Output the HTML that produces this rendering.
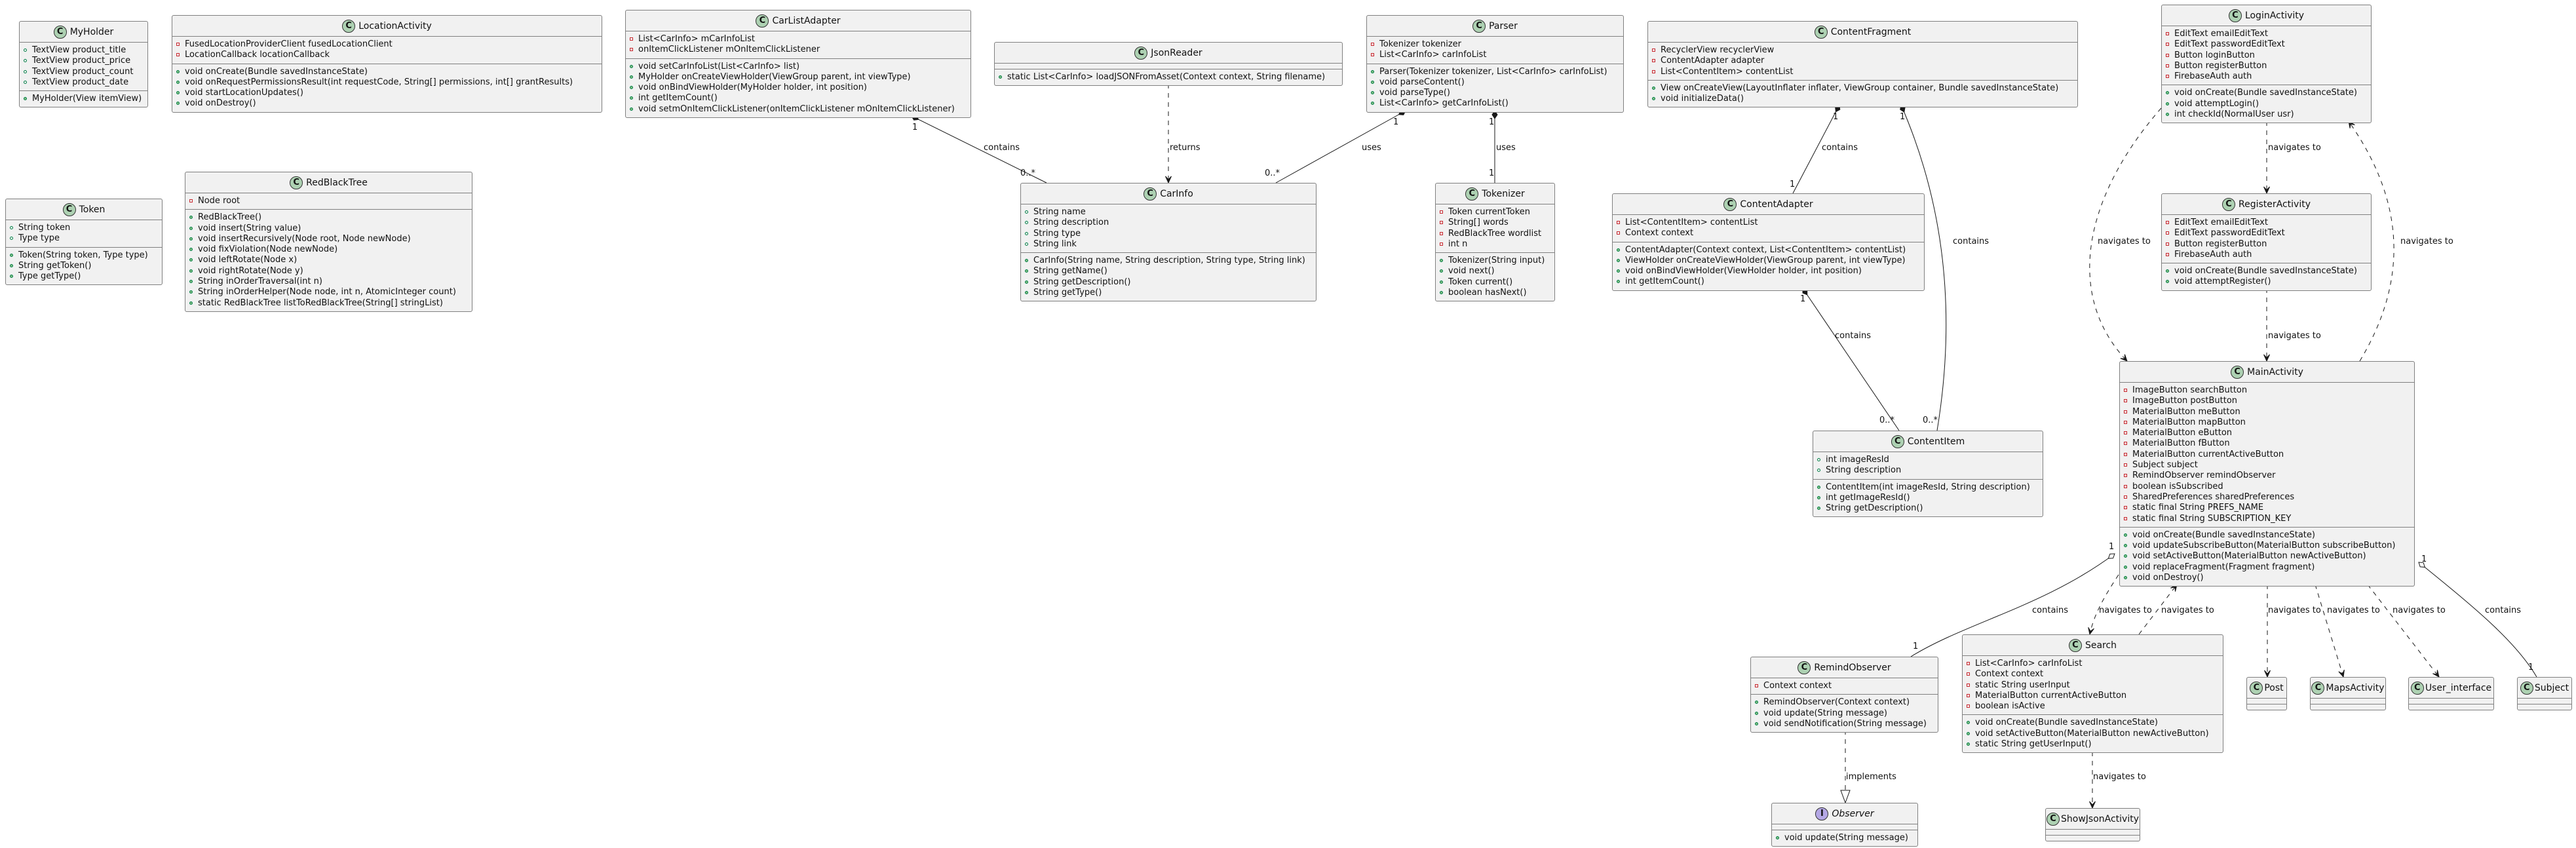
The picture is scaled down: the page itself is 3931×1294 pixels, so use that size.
<!DOCTYPE html>
<html><head><meta charset="utf-8"><style>
html,body{margin:0;padding:0;background:#fff;}
body{width:3931px;height:1294px;position:relative;overflow:hidden;font-family:"DejaVu Sans","Liberation Sans",sans-serif;}
svg{position:absolute;left:0;top:0;}
.b{position:absolute;background:#f1f1f1;border:1px solid #808080;border-radius:3px;font-size:13px;color:#111;box-sizing:border-box;}
.h{height:31px;display:flex;align-items:center;justify-content:center;border-bottom:1px solid #808080;font-size:14px;white-space:nowrap;}
.c{width:20px;height:20px;border-radius:50%;background:#add1b2;border:1px solid #333;font-weight:bold;font-size:13px;display:flex;align-items:center;justify-content:center;margin-right:5px;box-sizing:border-box;flex:none;}
.i{background:#b4a7e5;}
.s{padding:4px 0;border-bottom:1px solid #808080;min-height:0;}
.s:last-child{border-bottom:none;}
.r{height:16.3px;line-height:16.3px;padding-left:19px;position:relative;white-space:nowrap;}
.r::before{content:"";position:absolute;left:6px;top:5px;width:5px;height:5px;box-sizing:border-box;}
.p::before{border:1px solid #c82930;}
.f::before{border:1px solid #038048;border-radius:50%;}
.m::before{border:1px solid #038048;background:#84be84;border-radius:50%;}
</style></head><body>
<svg width="3931" height="1294" viewBox="0 0 3931 1294">
<defs>
<marker id="fd" markerUnits="userSpaceOnUse" viewBox="-1 -6 15 12" refX="0" refY="0" markerWidth="15" markerHeight="12" orient="auto"><path d="M0,0 L6,-4 L12,0 L6,4 Z" fill="#181818" stroke="#181818"/></marker>
<marker id="hd" markerUnits="userSpaceOnUse" viewBox="-1 -6 15 12" refX="0" refY="0" markerWidth="15" markerHeight="12" orient="auto"><path d="M0,0 L6,-4 L12,0 L6,4 Z" fill="#fff" stroke="#181818"/></marker>
<marker id="ar" markerUnits="userSpaceOnUse" viewBox="-11 -6 12 12" refX="0" refY="0" markerWidth="12" markerHeight="12" orient="auto"><path d="M0,0 L-10,-4.5 L-5,0 L-10,4.5 Z" fill="#181818" stroke="#181818" stroke-width="1"/></marker>
<marker id="tr" markerUnits="userSpaceOnUse" viewBox="-21 -9 22 18" refX="0" refY="0" markerWidth="22" markerHeight="18" orient="auto"><path d="M0,0 L-19,-7 L-19,7 Z" fill="#fff" stroke="#181818"/></marker>
</defs>
<g fill="none" stroke="#181818" stroke-width="1">
<line x1="1391" y1="177" x2="1597" y2="279" marker-start="url(#fd)"/>
<line x1="1783" y1="128" x2="1783" y2="279" stroke-dasharray="7 7" marker-end="url(#ar)"/>
<line x1="2145" y1="169" x2="1947" y2="279" marker-start="url(#fd)"/>
<line x1="2281" y1="169" x2="2281" y2="279" marker-start="url(#fd)"/>
<line x1="2807" y1="160" x2="2736" y2="295" marker-start="url(#fd)"/>
<path d="M2901,160 C2975,330 2982,500 2956,657" marker-start="url(#fd)"/>
<line x1="2751" y1="440" x2="2898" y2="657" marker-start="url(#fd)"/>
<line x1="3459" y1="185" x2="3459" y2="295" stroke-dasharray="7 7" marker-end="url(#ar)"/>
<path d="M3298,165 C3180,300 3150,450 3246,551" stroke-dasharray="7 7" marker-end="url(#ar)"/>
<path d="M3601,551 C3680,420 3665,300 3584,185" stroke-dasharray="7 7" marker-end="url(#ar)"/>
<line x1="3459" y1="440" x2="3459" y2="551" stroke-dasharray="7 7" marker-end="url(#ar)"/>
<path d="M3227,845 C3120,925 3000,950 2916,1002" marker-start="url(#hd)"/>
<path d="M3233,877 C3208,915 3195,940 3189,968" stroke-dasharray="7 7" marker-end="url(#ar)"/>
<line x1="3264" y1="968" x2="3322" y2="892" stroke-dasharray="7 7" marker-end="url(#ar)"/>
<line x1="3460" y1="892" x2="3460" y2="1033" stroke-dasharray="7 7" marker-end="url(#ar)"/>
<line x1="3533" y1="892" x2="3576" y2="1033" stroke-dasharray="7 7" marker-end="url(#ar)"/>
<line x1="3613" y1="892" x2="3722" y2="1033" stroke-dasharray="7 7" marker-end="url(#ar)"/>
<path d="M3691,858 C3780,930 3840,980 3871,1033" marker-start="url(#hd)"/>
<line x1="2816" y1="1114" x2="2816" y2="1225" stroke-dasharray="7 7" marker-end="url(#tr)"/>
<line x1="3193" y1="1147" x2="3193" y2="1233" stroke-dasharray="7 7" marker-end="url(#ar)"/>
</g>
<g font-family="DejaVu Sans, Liberation Sans, sans-serif" font-size="13" fill="#111">
<text x="1501" y="229">contains</text><text x="1392" y="198">1</text><text x="1557" y="268">0..*</text>
<text x="1785" y="229">returns</text>
<text x="2078" y="229">uses</text><text x="2126" y="190">1</text><text x="1930" y="268">0..*</text>
<text x="2283" y="229">uses</text><text x="2272" y="190">1</text><text x="2272" y="268">1</text>
<text x="2780" y="229">contains</text><text x="2797" y="182">1</text><text x="2731" y="285">1</text>
<text x="2899" y="182">1</text><text x="2980" y="372">contains</text>
<text x="2747" y="460">1</text><text x="2800" y="516">contains</text>
<text x="2868" y="645">0..*</text><text x="2934" y="645">0..*</text>
<text x="3461" y="229">navigates to</text>
<text x="3201" y="372">navigates to</text><text x="3663" y="372">navigates to</text>
<text x="3461" y="516">navigates to</text>
<text x="3101" y="935">contains</text><text x="3218" y="838">1</text><text x="2919" y="990">1</text>
<text x="3203" y="935">navigates to</text><text x="3298" y="935">navigates to</text>
<text x="3461" y="935">navigates to</text><text x="3551" y="935">navigates to</text><text x="3651" y="935">navigates to</text>
<text x="3792" y="935">contains</text><text x="3858" y="1022">1</text><text x="3695" y="857">1</text>
<text x="2817" y="1189">implements</text><text x="3194" y="1189">navigates to</text>
</g>
</svg>

<div class="b" style="left:29px;top:32px;width:197px"><div class="h"><span class="c">C</span>MyHolder</div>
<div class="s"><div class="r f">TextView product_title</div><div class="r f">TextView product_price</div><div class="r f">TextView product_count</div><div class="r f">TextView product_date</div></div>
<div class="s"><div class="r m">MyHolder(View itemView)</div></div></div>

<div class="b" style="left:262px;top:23px;width:657px"><div class="h"><span class="c">C</span>LocationActivity</div>
<div class="s"><div class="r p">FusedLocationProviderClient fusedLocationClient</div><div class="r p">LocationCallback locationCallback</div></div>
<div class="s"><div class="r m">void onCreate(Bundle savedInstanceState)</div><div class="r m">void onRequestPermissionsResult(int requestCode, String[] permissions, int[] grantResults)</div><div class="r m">void startLocationUpdates()</div><div class="r m">void onDestroy()</div></div></div>

<div class="b" style="left:8px;top:303px;width:240px"><div class="h"><span class="c">C</span>Token</div>
<div class="s"><div class="r f">String token</div><div class="r f">Type type</div></div>
<div class="s"><div class="r m">Token(String token, Type type)</div><div class="r m">String getToken()</div><div class="r m">Type getType()</div></div></div>

<div class="b" style="left:282px;top:262px;width:439px"><div class="h"><span class="c">C</span>RedBlackTree</div>
<div class="s"><div class="r p">Node root</div></div>
<div class="s"><div class="r m">RedBlackTree()</div><div class="r m">void insert(String value)</div><div class="r m">void insertRecursively(Node root, Node newNode)</div><div class="r m">void fixViolation(Node newNode)</div><div class="r m">void leftRotate(Node x)</div><div class="r m">void rightRotate(Node y)</div><div class="r m">String inOrderTraversal(int n)</div><div class="r m">String inOrderHelper(Node node, int n, AtomicInteger count)</div><div class="r m">static RedBlackTree listToRedBlackTree(String[] stringList)</div></div></div>

<div class="b" style="left:954px;top:15px;width:528px"><div class="h"><span class="c">C</span>CarListAdapter</div>
<div class="s"><div class="r p">List&lt;CarInfo&gt; mCarInfoList</div><div class="r p">onItemClickListener mOnItemClickListener</div></div>
<div class="s"><div class="r m">void setCarInfoList(List&lt;CarInfo&gt; list)</div><div class="r m">MyHolder onCreateViewHolder(ViewGroup parent, int viewType)</div><div class="r m">void onBindViewHolder(MyHolder holder, int position)</div><div class="r m">int getItemCount()</div><div class="r m">void setmOnItemClickListener(onItemClickListener mOnItemClickListener)</div></div></div>

<div class="b" style="left:1517px;top:64px;width:532px"><div class="h"><span class="c">C</span>JsonReader</div>
<div class="s"></div>
<div class="s"><div class="r m">static List&lt;CarInfo&gt; loadJSONFromAsset(Context context, String filename)</div></div></div>

<div class="b" style="left:1557px;top:279px;width:452px"><div class="h"><span class="c">C</span>CarInfo</div>
<div class="s"><div class="r f">String name</div><div class="r f">String description</div><div class="r f">String type</div><div class="r f">String link</div></div>
<div class="s"><div class="r m">CarInfo(String name, String description, String type, String link)</div><div class="r m">String getName()</div><div class="r m">String getDescription()</div><div class="r m">String getType()</div></div></div>

<div class="b" style="left:2085px;top:23px;width:393px"><div class="h"><span class="c">C</span>Parser</div>
<div class="s"><div class="r p">Tokenizer tokenizer</div><div class="r p">List&lt;CarInfo&gt; carInfoList</div></div>
<div class="s"><div class="r m">Parser(Tokenizer tokenizer, List&lt;CarInfo&gt; carInfoList)</div><div class="r m">void parseContent()</div><div class="r m">void parseType()</div><div class="r m">List&lt;CarInfo&gt; getCarInfoList()</div></div></div>

<div class="b" style="left:2190px;top:279px;width:183px"><div class="h"><span class="c">C</span>Tokenizer</div>
<div class="s"><div class="r p">Token currentToken</div><div class="r p">String[] words</div><div class="r p">RedBlackTree wordlist</div><div class="r p">int n</div></div>
<div class="s"><div class="r m">Tokenizer(String input)</div><div class="r m">void next()</div><div class="r m">Token current()</div><div class="r m">boolean hasNext()</div></div></div>

<div class="b" style="left:2514px;top:32px;width:657px"><div class="h"><span class="c">C</span>ContentFragment</div>
<div class="s"><div class="r p">RecyclerView recyclerView</div><div class="r p">ContentAdapter adapter</div><div class="r p">List&lt;ContentItem&gt; contentList</div></div>
<div class="s"><div class="r m">View onCreateView(LayoutInflater inflater, ViewGroup container, Bundle savedInstanceState)</div><div class="r m">void initializeData()</div></div></div>

<div class="b" style="left:2460px;top:295px;width:477px"><div class="h"><span class="c">C</span>ContentAdapter</div>
<div class="s"><div class="r p">List&lt;ContentItem&gt; contentList</div><div class="r p">Context context</div></div>
<div class="s"><div class="r m">ContentAdapter(Context context, List&lt;ContentItem&gt; contentList)</div><div class="r m">ViewHolder onCreateViewHolder(ViewGroup parent, int viewType)</div><div class="r m">void onBindViewHolder(ViewHolder holder, int position)</div><div class="r m">int getItemCount()</div></div></div>

<div class="b" style="left:3298px;top:7px;width:321px"><div class="h"><span class="c">C</span>LoginActivity</div>
<div class="s"><div class="r p">EditText emailEditText</div><div class="r p">EditText passwordEditText</div><div class="r p">Button loginButton</div><div class="r p">Button registerButton</div><div class="r p">FirebaseAuth auth</div></div>
<div class="s"><div class="r m">void onCreate(Bundle savedInstanceState)</div><div class="r m">void attemptLogin()</div><div class="r m">int checkId(NormalUser usr)</div></div></div>

<div class="b" style="left:3298px;top:295px;width:321px"><div class="h"><span class="c">C</span>RegisterActivity</div>
<div class="s"><div class="r p">EditText emailEditText</div><div class="r p">EditText passwordEditText</div><div class="r p">Button registerButton</div><div class="r p">FirebaseAuth auth</div></div>
<div class="s"><div class="r m">void onCreate(Bundle savedInstanceState)</div><div class="r m">void attemptRegister()</div></div></div>

<div class="b" style="left:2766px;top:657px;width:352px"><div class="h"><span class="c">C</span>ContentItem</div>
<div class="s"><div class="r f">int imageResId</div><div class="r f">String description</div></div>
<div class="s"><div class="r m">ContentItem(int imageResId, String description)</div><div class="r m">int getImageResId()</div><div class="r m">String getDescription()</div></div></div>

<div class="b" style="left:3234px;top:551px;width:451px"><div class="h"><span class="c">C</span>MainActivity</div>
<div class="s"><div class="r p">ImageButton searchButton</div><div class="r p">ImageButton postButton</div><div class="r p">MaterialButton meButton</div><div class="r p">MaterialButton mapButton</div><div class="r p">MaterialButton eButton</div><div class="r p">MaterialButton fButton</div><div class="r p">MaterialButton currentActiveButton</div><div class="r p">Subject subject</div><div class="r p">RemindObserver remindObserver</div><div class="r p">boolean isSubscribed</div><div class="r p">SharedPreferences sharedPreferences</div><div class="r p">static final String PREFS_NAME</div><div class="r p">static final String SUBSCRIPTION_KEY</div></div>
<div class="s"><div class="r m">void onCreate(Bundle savedInstanceState)</div><div class="r m">void updateSubscribeButton(MaterialButton subscribeButton)</div><div class="r m">void setActiveButton(MaterialButton newActiveButton)</div><div class="r m">void replaceFragment(Fragment fragment)</div><div class="r m">void onDestroy()</div></div></div>

<div class="b" style="left:2671px;top:1002px;width:287px"><div class="h"><span class="c">C</span>RemindObserver</div>
<div class="s"><div class="r p">Context context</div></div>
<div class="s"><div class="r m">RemindObserver(Context context)</div><div class="r m">void update(String message)</div><div class="r m">void sendNotification(String message)</div></div></div>

<div class="b" style="left:2994px;top:968px;width:399px"><div class="h"><span class="c">C</span>Search</div>
<div class="s"><div class="r p">List&lt;CarInfo&gt; carInfoList</div><div class="r p">Context context</div><div class="r p">static String userInput</div><div class="r p">MaterialButton currentActiveButton</div><div class="r p">boolean isActive</div></div>
<div class="s"><div class="r m">void onCreate(Bundle savedInstanceState)</div><div class="r m">void setActiveButton(MaterialButton newActiveButton)</div><div class="r m">static String getUserInput()</div></div></div>

<div class="b" style="left:2703px;top:1225px;width:224px"><div class="h"><span class="c i">I</span><i>Observer</i></div>
<div class="s"></div>
<div class="s"><div class="r m">void update(String message)</div></div></div>

<div class="b" style="left:3121px;top:1233px;width:145px"><div class="h"><span class="c" style="margin-right:2px">C</span>ShowJsonActivity</div><div class="s"></div><div class="s"></div></div>
<div class="b" style="left:3428px;top:1033px;width:62px"><div class="h"><span class="c" style="margin-right:2px">C</span>Post</div><div class="s"></div><div class="s"></div></div>
<div class="b" style="left:3525px;top:1033px;width:116px"><div class="h"><span class="c" style="margin-right:2px">C</span>MapsActivity</div><div class="s"></div><div class="s"></div></div>
<div class="b" style="left:3675px;top:1033px;width:131px"><div class="h"><span class="c" style="margin-right:2px">C</span>User_interface</div><div class="s"></div><div class="s"></div></div>
<div class="b" style="left:3841px;top:1033px;width:84px"><div class="h"><span class="c" style="margin-right:2px">C</span>Subject</div><div class="s"></div><div class="s"></div></div>
</body></html>
